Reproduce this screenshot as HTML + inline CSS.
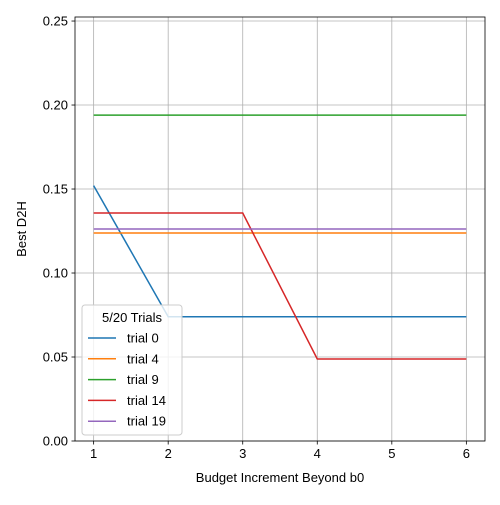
<!DOCTYPE html>
<html><head><meta charset="utf-8"><style>
body{margin:0;background:#fff;font-family:"Liberation Sans","DejaVu Sans",sans-serif;}
svg text{font-family:"Liberation Sans","DejaVu Sans",sans-serif;}
</style></head><body>
<svg id="chart" width="500" height="500" viewBox="0 0 500 500"></svg>
<script>
const xCategories = [1, 2, 3, 4, 5, 6];
const seriesNames = ["trial 0", "trial 4", "trial 9", "trial 14", "trial 19"];
const trial0 = [0.152, 0.074, 0.074, 0.074, 0.074, 0.074];
const trial4 = [0.1238, 0.1238, 0.1238, 0.1238, 0.1238, 0.1238];
const trial9 = [0.194, 0.194, 0.194, 0.194, 0.194, 0.194];
const trial14 = [0.1357, 0.1357, 0.1357, 0.0488, 0.0488, 0.0488];
const trial19 = [0.1262, 0.1262, 0.1262, 0.1262, 0.1262, 0.1262];
const yTicks = [0.00, 0.05, 0.10, 0.15, 0.20, 0.25];
const xTicks = [1, 2, 3, 4, 5, 6];
const colors = ["#1f77b4", "#ff7f0e", "#2ca02c", "#d62728", "#9467bd"];

const NS = "http://www.w3.org/2000/svg";
const svg = document.getElementById("chart");
const L = 75, R = 485, T = 17, B = 441;
const xMin = 0.75, xMax = 6.25, yMin = 0, yMax = 0.2524;
const xs = v => L + (v - xMin) / (xMax - xMin) * (R - L);
const ys = v => B - (v - yMin) / (yMax - yMin) * (B - T);
function mk(tag, attrs, parent) {
  const e = document.createElementNS(NS, tag);
  for (const k in attrs) e.setAttribute(k, attrs[k]);
  (parent || svg).appendChild(e);
  return e;
}
// grid
const grid = mk("g", {});


xTicks.forEach(t => mk("line", {x1: xs(t), x2: xs(t), y1: T, y2: B, stroke: "#b0b0b0", "stroke-width": 0.8}, grid));
yTicks.forEach(t => mk("line", {x1: L, x2: R, y1: ys(t), y2: ys(t), stroke: "#b0b0b0", "stroke-width": 0.8}, grid));
// series
const all = [trial0, trial4, trial9, trial14, trial19];
all.forEach((vals, i) => {
  const p = mk("polyline", {points: vals.map((v, j) => xs(xCategories[j]) + "," + ys(v)).join(" "), fill: "none", stroke: colors[i], "stroke-width": 1.5});
  
  
});
// axes frame
const frame = mk("rect", {x: L, y: T, width: R - L, height: B - T, fill: "none", stroke: "#000", "stroke-width": 0.8});


// ticks
xTicks.forEach(t => {
  mk("line", {x1: xs(t), x2: xs(t), y1: B, y2: B + 3.5, stroke: "#000", "stroke-width": 0.8});
  const tx = mk("text", {x: xs(t), y: B + 17, "text-anchor": "middle", "font-size": 13});
  tx.textContent = t;
  
  
});
yTicks.forEach(t => {
  mk("line", {x1: L - 3.5, x2: L, y1: ys(t), y2: ys(t), stroke: "#000", "stroke-width": 0.8});
  const tx = mk("text", {x: L - 7, y: ys(t) + 4.5, "text-anchor": "end", "font-size": 13});
  tx.textContent = t.toFixed(2);
  
  
});
const xt = mk("text", {x: (L + R) / 2, y: 482, "text-anchor": "middle", "font-size": 13});
xt.textContent = "Budget Increment Beyond b0";


const yt = mk("text", {x: 26, y: (T + B) / 2, "text-anchor": "middle", "font-size": 13, transform: "rotate(-90 26 " + (T + B) / 2 + ")"});
yt.textContent = "Best D2H";


// legend
const lg = mk("g", {});


mk("rect", {x: 82, y: 305, width: 100, height: 130, rx: 3, fill: "#fff", "fill-opacity": 0.8, stroke: "#ccc", "stroke-width": 1}, lg);
const lt = mk("text", {x: 132, y: 322, "text-anchor": "middle", "font-size": 13}, lg);
lt.textContent = "5/20 Trials";


seriesNames.forEach((n, i) => {
  const y = 338 + i * 20.8;
  const g = mk("g", {}, lg);
  
  
  mk("line", {x1: 88, x2: 116, y1: y, y2: y, stroke: colors[i], "stroke-width": 1.5}, g);
  const t = mk("text", {x: 127, y: y + 4.5, "font-size": 13}, g);
  t.textContent = n;
});
</script>
</body></html>
